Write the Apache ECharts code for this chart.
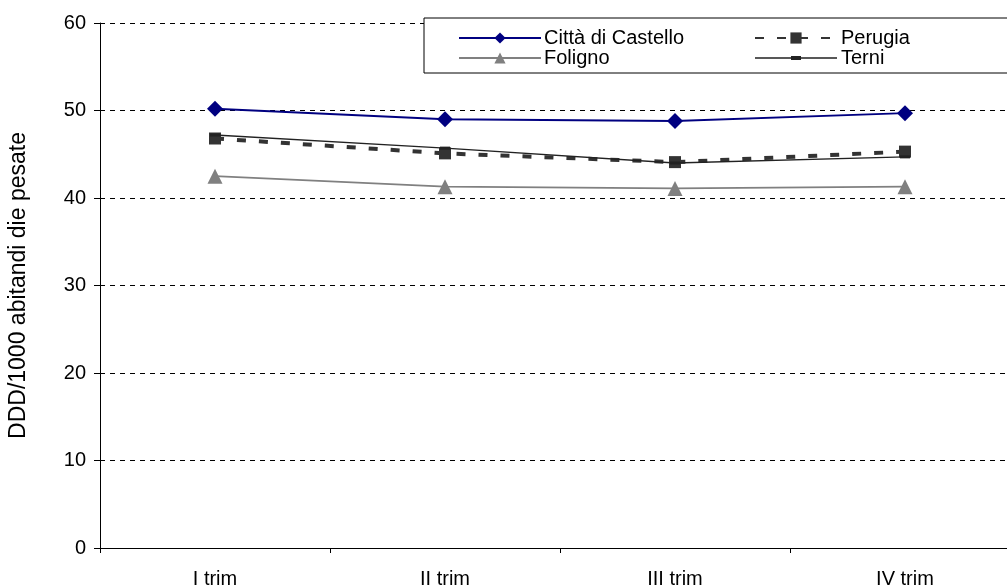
<!DOCTYPE html>
<html>
<head>
<meta charset="utf-8">
<script src="https://cdn.jsdelivr.net/npm/echarts@6/dist/echarts.min.js"></script>
<style>
html,body{margin:0;padding:0;background:#fff;}
#main{width:1007px;height:588px;}
</style>
</head>
<body>
<div id="main"></div>
<script>
const categories = ['I trim', 'II trim', 'III trim', 'IV trim'];
const cittaDiCastello = [50.2, 49.0, 48.8, 49.7];
const perugia = [46.8, 45.1, 44.1, 45.3];
const foligno = [42.5, 41.3, 41.1, 41.3];
const terni = [47.2, 45.7, 44.0, 44.7];
const yTicks = [0, 10, 20, 30, 40, 50, 60];
const yTitle = 'DDD/1000 abitandi die pesate';

const chart = echarts.init(document.getElementById('main'));
const font = 'Liberation Sans, Arial, sans-serif';
const terniIcon = 'path://M0,5.3H82V6.7H0Z M36,4H46V8H36Z';
chart.setOption({
  animation: false,
  backgroundColor: '#fff',
  textStyle: { fontFamily: font },
  grid: { left: 100, top: 23, height: 525, width: 920, containLabel: false, outerBoundsMode: 'none' },
  graphic: [{
    type: 'rect', z: 3,
    shape: { x: 424, y: 18, width: 620, height: 55 },
    style: { fill: '#fff', stroke: '#000', lineWidth: 1 }
  }],
  legend: [{
    z: 6, orient: 'vertical', left: 453, top: 23,
    itemWidth: 82, itemHeight: 14, itemGap: 0,
    textStyle: { fontSize: 20, color: '#000', fontFamily: font, padding: [0, 0, 0, -2] },
    data: ['Città di Castello', 'Foligno']
  }, {
    z: 6, orient: 'vertical', left: 749, top: 23,
    itemWidth: 82, itemHeight: 14, itemGap: 0,
    textStyle: { fontSize: 20, color: '#000', fontFamily: font, padding: [0, 0, 0, -1] },
    data: ['Perugia', { name: 'Terni', icon: terniIcon }]
  }],
  xAxis: {
    type: 'category', data: categories, boundaryGap: true,
    axisLine: { lineStyle: { color: '#000', width: 1 } },
    axisTick: { show: true, length: 5, lineStyle: { color: '#000' } },
    axisLabel: { fontSize: 20, color: '#000', margin: 21, fontFamily: font },
    splitLine: { show: false }
  },
  yAxis: {
    type: 'value', min: yTicks[0], max: yTicks[yTicks.length - 1], interval: 10,
    name: yTitle, nameLocation: 'middle', nameRotate: 90, nameGap: 70,
    nameTextStyle: { fontSize: 23, color: '#000', fontFamily: font },
    axisLine: { show: true, lineStyle: { color: '#000', width: 1 } },
    axisTick: { show: true, length: 6, lineStyle: { color: '#000' } },
    axisLabel: { fontSize: 20, color: '#000', margin: 14, fontFamily: font },
    splitLine: { show: true, lineStyle: { color: '#000', type: [5, 5], width: 1 } }
  },
  series: [{
    name: 'Città di Castello', type: 'line', data: cittaDiCastello,
    symbol: 'diamond', symbolSize: 16, showSymbol: true,
    itemStyle: { color: '#000080' },
    lineStyle: { color: '#000080', width: 2 }, z: 5
  }, {
    name: 'Perugia', type: 'line', data: perugia,
    symbol: 'rect', symbolSize: 12,
    itemStyle: { color: '#333333' },
    lineStyle: { color: '#333333', width: 4, type: [9, 13] }, z: 3
  }, {
    name: 'Foligno', type: 'line', data: foligno,
    symbol: 'triangle', symbolSize: 15,
    itemStyle: { color: '#808080' },
    lineStyle: { color: '#808080', width: 2 }, z: 4
  }, {
    name: 'Terni', type: 'line', data: terni,
    symbol: 'rect', symbolSize: [10, 3],
    itemStyle: { color: '#222222' },
    lineStyle: { color: '#222222', width: 1.5 }, z: 4
  }]
});
</script>
</body>
</html>
